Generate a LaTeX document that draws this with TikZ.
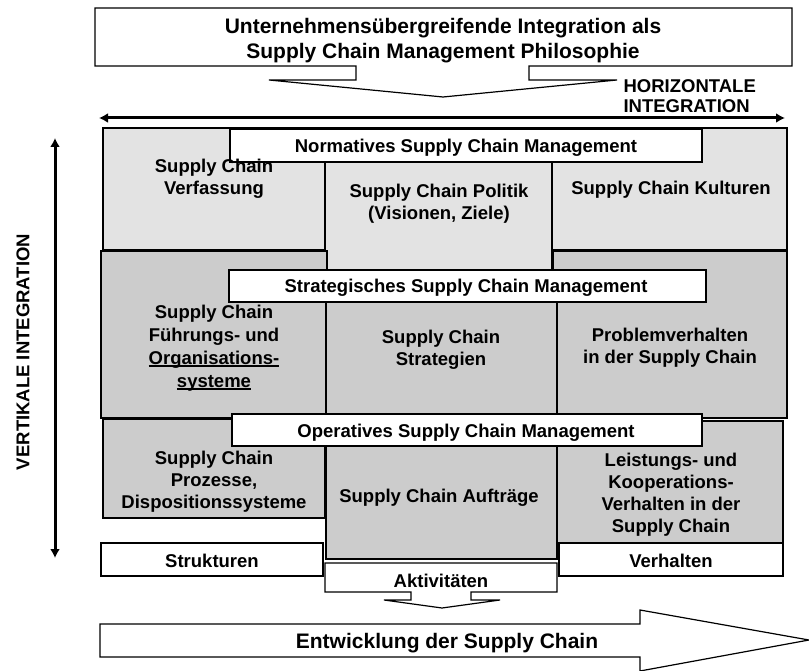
\documentclass[tikz,border=0pt]{standalone}
\usepackage{fontspec}
\setmainfont{Liberation Sans}
\usetikzlibrary{arrows.meta}
\definecolor{lightcell}{gray}{0.89}
\definecolor{darkcell}{gray}{0.8}
\newcommand{\ulword}[1]{\setbox0\hbox{#1}\rlap{\rule[-2.6pt]{\wd0}{1.2pt}}\box0}
\begin{document}
\begin{tikzpicture}[x=1pt,y=-1pt,line width=1.2pt,
    lab/.style={font=\fontsize{18.5}{22}\selectfont\bfseries, align=center, anchor=base, inner sep=0pt},
    biglab/.style={lab, font=\fontsize{21}{25}\selectfont\bfseries},
    light/.style={draw, fill=lightcell},
    dark/.style={draw, fill=darkcell},
    blank/.style={draw, fill=white},
    dbl/.style={line width=3pt, {Latex[length=9pt,width=10pt]}-{Latex[length=9pt,width=10pt]}}]
    \useasboundingbox (0,0) rectangle (809,671);
    % normative row
    \draw[light] (103,128) rectangle (325,250);
    \draw[light] (552,128) rectangle (787,250);
    \draw[light] (325,128) rectangle (552,285);
    % strategic row
    \draw[dark] (101,251) rectangle (327,418);
    \draw[dark] (553,251) rectangle (787,418);
    \draw[dark] (326,285) rectangle (557,559);
    % operative row
    \draw[dark] (103,419) rectangle (325,518);
    \draw[dark] (557,421) rectangle (783,543);
    \draw[blank] (101,543) rectangle (323,576);
    \draw[blank] (559,543) rectangle (783,576);
    \draw[blank] (325,563) -- (557,563) -- (557,592) -- (471,592) -- (471,600) -- (500,600) -- (442,608)
        -- (384,600) -- (411,600) -- (411,592) -- (325,592) -- cycle;
    % bars
    \draw[blank] (230,129) rectangle (702,162);
    \draw[blank] (229,270) rectangle (706,302);
    \draw[blank] (232,414) rectangle (702,446);
    % philosophy callout
    \draw[blank] (95,8) -- (792,8) -- (792,66) -- (529,66) -- (529,80) -- (617,80) -- (443,97)
        -- (269,80) -- (356,80) -- (356,66) -- (95,66) -- cycle;
    % development arrow
    \draw[blank] (100,624) -- (640,624) -- (640,610) -- (809,640) -- (640,671) -- (640,657) -- (100,657) -- cycle;

    \node[biglab] (philo) at (443,59) {Unternehmensübergreifende Integration als\\Supply Chain Management Philosophie};
    \node[biglab] (entw) at (447,648) {Entwicklung der Supply Chain};
    \node[lab, align=left, anchor=base west, font=\fontsize{18.5}{20}\selectfont\bfseries] (horlab) at (623,113) {HORIZONTALE\\INTEGRATION};
    \node[lab, rotate=90, anchor=center] (vertlab) at (23,352) {VERTIKALE INTEGRATION};

    \node[lab] (norm) at (466,153) {Normatives Supply Chain Management};
    \node[lab] (strat) at (466,292) {Strategisches Supply Chain Management};
    \node[lab] (oper) at (466,437) {Operatives Supply Chain Management};

    \node[lab] (verf) at (214,195) {Supply Chain\\Verfassung};
    \node[lab] (politik) at (439,220) {Supply Chain Politik\\(Visionen, Ziele)};
    \node[lab] (kultur) at (671,195) {Supply Chain Kulturen};
    \node[lab, font=\fontsize{18.5}{23}\selectfont\bfseries] (fuehr) at (214,387) {Supply Chain\\Führungs- und\\\ulword{Organisations-}\\\ulword{systeme}};
    \node[lab] (strategien) at (441,365) {Supply Chain\\Strategien};
    \node[lab] (problem) at (670,363) {Problemverhalten\\in der Supply Chain};
    \node[lab] (prozess) at (214,508) {Supply Chain\\Prozesse,\\Dispositionssysteme};
    \node[lab] (auftrag) at (439,502) {Supply Chain Aufträge};
    \node[lab] (leistung) at (671,532) {Leistungs- und\\Kooperations-\\Verhalten in der\\Supply Chain};
    \node[lab] (struk) at (212,567) {Strukturen};
    \node[lab] (verh) at (671,567) {Verhalten};
    \node[lab] (aktiv) at (441,587) {Aktivitäten};

    \coordinate (hl) at (99,118);
    \coordinate (hr) at (785,118);
    \draw[dbl] (hl) -- (hr);
    \coordinate (vt) at (55,138);
    \coordinate (vb) at (55,558);
    \draw[dbl] (vt) -- (vb);
\end{tikzpicture}
\end{document}
